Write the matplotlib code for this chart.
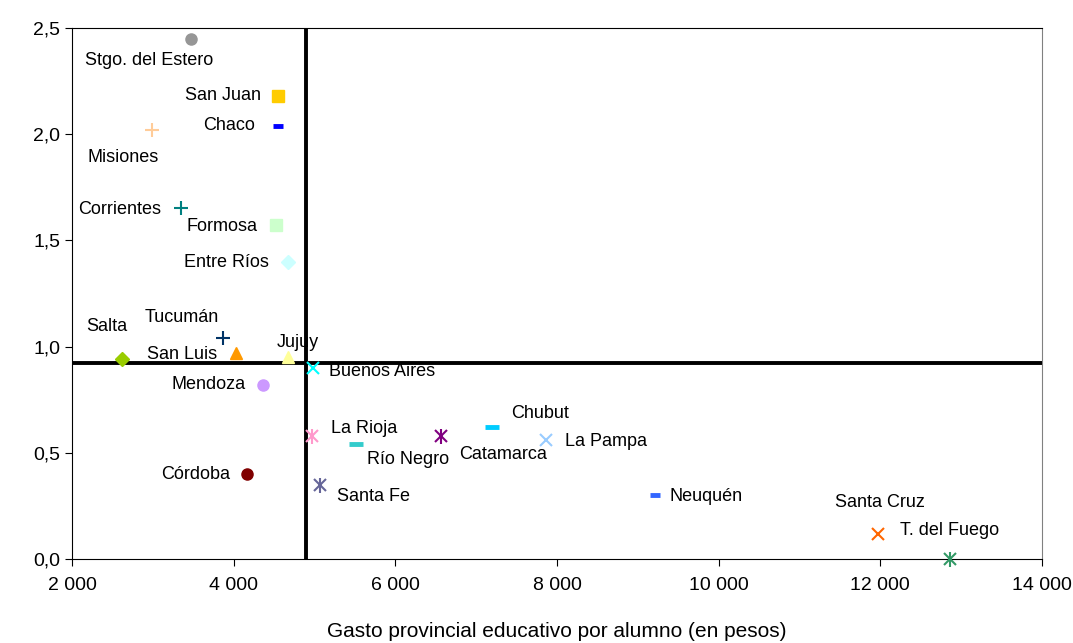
import matplotlib
matplotlib.use("Agg")
import matplotlib.pyplot as plt
from matplotlib.ticker import FuncFormatter

plt.rcParams['font.family'] = ['Liberation Sans', 'DejaVu Sans']

# datos: gasto por alumno (pesos) y el indicador del eje vertical
provincias = ["Stgo. del Estero", "San Juan", "Chaco", "Misiones", "Corrientes",
              "Formosa", "Entre Ríos", "Tucumán", "Salta", "San Luis", "Jujuy",
              "Buenos Aires", "Mendoza", "La Rioja", "Río Negro", "Catamarca",
              "Chubut", "La Pampa", "Córdoba", "Santa Fe", "Neuquén",
              "Santa Cruz", "T. del Fuego"]
gasto = [3470, 4550, 4550, 2990, 3350, 4520, 4670, 3870, 2620, 4030, 4670,
         4980, 4360, 4970, 5510, 6560, 7200, 7860, 4170, 5070, 9210,
         11970, 12860]
indice = [2.45, 2.18, 2.04, 2.02, 1.65, 1.57, 1.40, 1.04, 0.94, 0.97, 0.95,
          0.90, 0.82, 0.58, 0.54, 0.58, 0.62, 0.56, 0.40, 0.35, 0.30,
          0.12, 0.0]
promedio_gasto = 4900
promedio_indice = 0.925

# estilo de cada marcador (marker, color, tamaño)
estilos = [("o", "#969696", 8), ("s", "#FFCC00", 8), ("_", "#0000FF", 7),
           ("+", "#FFCC99", 10), ("+", "#008080", 10), ("s", "#CCFFCC", 8),
           ("D", "#CCFFFF", 7), ("+", "#003366", 10), ("D", "#99CC00", 7),
           ("^", "#FF9900", 9), ("^", "#FFFF99", 9), ("x", "#00FFFF", 9),
           ("o", "#CC99FF", 8), ("*x", "#FF99CC", 9), ("_", "#33CCCC", 10),
           ("*x", "#800080", 9), ("_", "#00CCFF", 10), ("x", "#99CCFF", 9),
           ("o", "#800000", 8), ("*x", "#666699", 9), ("_", "#3366FF", 7),
           ("x", "#FF6600", 9), ("*x", "#339966", 9)]

# desplazamiento de las etiquetas en pixeles (dx, dy, alineación)
etiquetas = [(-42, 22, "center"), (-17, 0, "right"), (-23, 0, "right"),
             (-29, 28, "center"), (-20, 1, "right"), (-18, 1, "right"),
             (-19, 1, "right"), (-41, -21, "center"), (-15, -33, "center"),
             (-19, 2, "right"), (10, -15, "center"), (16, 4, "left"),
             (-17, 0, "right"), (19, -7, "left"), (11, 15, "left"),
             (19, 19, "left"), (19, -14, "left"), (19, 1, "left"),
             (-17, 0, "right"), (17, 12, "left"), (15, 1, "left"),
             (2, -31, "center"), (0, -29, "center")]

fig = plt.figure(figsize=(10.73, 6.43), dpi=100)
ax = fig.add_axes([0.0671, 0.1306, 0.904, 0.826])

for x, y, (m, c, s) in zip(gasto, indice, estilos):
    if m == "*x":
        ax.plot(x, y, marker="x", color=c, ms=s, mew=1.5, zorder=5, clip_on=False)
        ax.plot(x, y, marker="|", color=c, ms=s * 1.2, mew=1.5, zorder=5, clip_on=False)
    elif m in ("+", "x", "_"):
        w = 3.5 if m == "_" else 1.5
        ax.plot(x, y, marker=m, color=c, ms=s, mew=w, zorder=5, clip_on=False)
    else:
        ax.plot(x, y, marker=m, color=c, ms=s, mec=c, zorder=5, clip_on=False)

for nombre, x, y, (dx, dy, ha) in zip(provincias, gasto, indice, etiquetas):
    ax.annotate(nombre, (x, y), xytext=(dx, -dy), textcoords="offset pixels",
                ha=ha, va="center", fontsize=13)

ax.axvline(promedio_gasto, color="black", lw=2.8, zorder=3)
ax.axhline(promedio_indice, color="black", lw=2.8, zorder=3)

ax.set_xlim(2000, 14000)
ax.set_ylim(0, 2.5)
ax.set_xticks(range(2000, 14001, 2000))
ax.set_yticks([0, 0.5, 1.0, 1.5, 2.0, 2.5])
ax.xaxis.set_major_formatter(FuncFormatter(lambda v, p: "{:,.0f}".format(v).replace(",", " ")))
ax.yaxis.set_major_formatter(FuncFormatter(lambda v, p: "{:.1f}".format(v).replace(".", ",")))
ax.tick_params(labelsize=14, length=5, direction="out")
ax.tick_params(axis="x", pad=8)
ax.spines["right"].set_color("#808080")
ax.set_xlabel("Gasto provincial educativo por alumno (en pesos)", fontsize=15, labelpad=20)

fig.savefig("out.png", dpi=100)
